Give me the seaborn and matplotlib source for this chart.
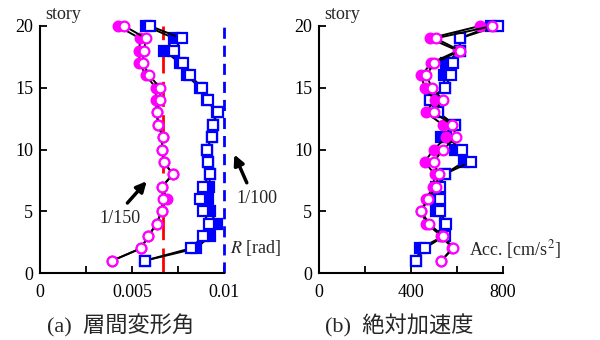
import numpy as np
import pandas as pd
import seaborn as sns
import matplotlib
matplotlib.use('Agg')
import matplotlib.pyplot as plt

# story numbers, top to bottom
stories = list(range(20, 0, -1))

# interstory drift angle [rad]
drift_mag_fill = [0.00422, 0.00543, 0.00540, 0.00540, 0.00576, 0.00629, 0.00630, 0.00634, 0.00643, 0.00667,
                  0.00661, 0.00674, 0.00721, 0.00665, 0.00688, 0.00661, 0.00634, 0.00589, 0.00549, 0.00393]
drift_mag_open = [0.00458, 0.00576, 0.00565, 0.00558, 0.00594, 0.00652, 0.00654, 0.00634, 0.00643, 0.00667,
                  0.00661, 0.00674, 0.00721, 0.00665, 0.00667, 0.00661, 0.00634, 0.00589, 0.00549, 0.00393]
drift_blue_fill = [0.00576, 0.00730, 0.00676, 0.00760, 0.00797, 0.00870, 0.00906, 0.00960, 0.00938, 0.00933,
                   0.00906, 0.00915, 0.00924, 0.00920, 0.00915, 0.00924, 0.00960, 0.00924, 0.00850, 0.00570]
drift_blue_open = [0.00598, 0.00770, 0.00730, 0.00775, 0.00815, 0.00882, 0.00915, 0.00966, 0.00938, 0.00933,
                   0.00906, 0.00915, 0.00924, 0.00884, 0.00870, 0.00884, 0.00920, 0.00888, 0.00820, 0.00570]

# absolute acceleration [cm/s2]
acc_mag_fill = [699, 481, 604, 488, 445, 459, 503, 464, 539, 554,
                499, 459, 503, 496, 467, 445, 467, 532, 580, 532]
acc_mag_open = [754, 507, 614, 500, 467, 491, 539, 499, 580, 597,
                539, 499, 520, 510, 474, 445, 478, 539, 583, 532]
acc_blue_fill = [749, 612, 612, 554, 542, 546, 481, 517, 590, 532,
                 590, 630, 546, 510, 510, 510, 546, 542, 441, 423]
acc_blue_open = [778, 612, 612, 583, 575, 546, 481, 517, 590, 554,
                 622, 659, 546, 525, 528, 525, 554, 546, 459, 423]

sns.set_style('ticks')
plt.rcParams['font.family'] = ['Liberation Serif', 'Noto Sans CJK JP']
plt.rcParams['mathtext.fontset'] = 'stix'

fig = plt.figure(figsize=(6, 3.4), dpi=100)
ax1 = fig.add_axes([40 / 600, 67 / 340, 184 / 600, 247 / 340])
ax2 = fig.add_axes([319 / 600, 67 / 340, 184 / 600, 247 / 340])

# marker, face colour, edge colour, size
series = [
    ('s', 'blue', 'blue', 7.5),
    ('s', 'white', 'blue', 7.5),
    ('o', 'magenta', 'magenta', 7),
    ('o', 'white', 'magenta', 7),
]

def draw(ax, data_list):
    for vals, (mk, fc, ec, ms) in zip(data_list, series):
        sns.lineplot(x=vals, y=stories, ax=ax, sort=False, estimator=None,
                     color='black', lw=1.4, marker=mk, markersize=ms,
                     markerfacecolor=fc, markeredgecolor=ec, markeredgewidth=1.6,
                     clip_on=False, zorder=3)

ax1.axvline(1 / 150, color='red', lw=2, dashes=(9, 3), zorder=1, clip_on=False)
ax1.axvline(0.01, color='blue', lw=2, dashes=(4, 2.5), zorder=1, clip_on=False)
draw(ax1, [drift_blue_fill, drift_blue_open, drift_mag_fill, drift_mag_open])
draw(ax2, [acc_blue_fill, acc_blue_open, acc_mag_fill, acc_mag_open])

ax1.set_xlim(0, 0.01)
ax1.set_xticks([0, 0.0025, 0.005, 0.0075, 0.01])
ax1.set_xticklabels(['0', '', '0.005', '', '0.01'])
ax2.set_xlim(0, 800)
ax2.set_xticks([0, 200, 400, 600, 800])
ax2.set_xticklabels(['0', '', '400', '', '800'])

for ax in (ax1, ax2):
    ax.set_ylim(0, 20)
    ax.set_yticks([0, 5, 10, 15, 20])
    sns.despine(ax=ax)
    for s in ('left', 'bottom'):
        ax.spines[s].set_linewidth(1.5)
        ax.spines[s].set_color('black')
    ax.tick_params(direction='in', length=5, width=1.3, labelsize=13, colors='black')
    ax.tick_params(axis='x', pad=8)
    ax.tick_params(axis='y', pad=5)
    ax.set_xlabel('')
    ax.set_ylabel('')
    ax.text(0.03, 1.045, 'story', transform=ax.transAxes, fontsize=13, va='center', ha='left')

ax1.text(0.0103, 2.0, r'$R$ [rad]', fontsize=13, va='center', ha='left')
ax2.text(652, 1.9, 'Acc. [cm/s$^2$]', fontsize=13, va='center', ha='left')

ax1.annotate('', xy=(0.00590, 7.6), xytext=(0.00465, 5.5),
             arrowprops=dict(arrowstyle='-|>', color='black', lw=2.5, mutation_scale=15))
ax1.text(0.00435, 4.4, '1/150', fontsize=13, ha='center', va='center')
ax1.annotate('', xy=(0.01050, 9.8), xytext=(0.01130, 7.1),
             arrowprops=dict(arrowstyle='-|>', color='black', lw=2.5, mutation_scale=15),
             annotation_clip=False)
ax1.text(0.0118, 6.0, '1/100', fontsize=13, ha='center', va='center')

fig.text(47 / 600, 1 - 326 / 340, '(a)  層間変形角', fontsize=16, ha='left', va='center')
fig.text(325 / 600, 1 - 326 / 340, '(b)  絶対加速度', fontsize=16, ha='left', va='center')

fig.savefig('out.png', dpi=100)
